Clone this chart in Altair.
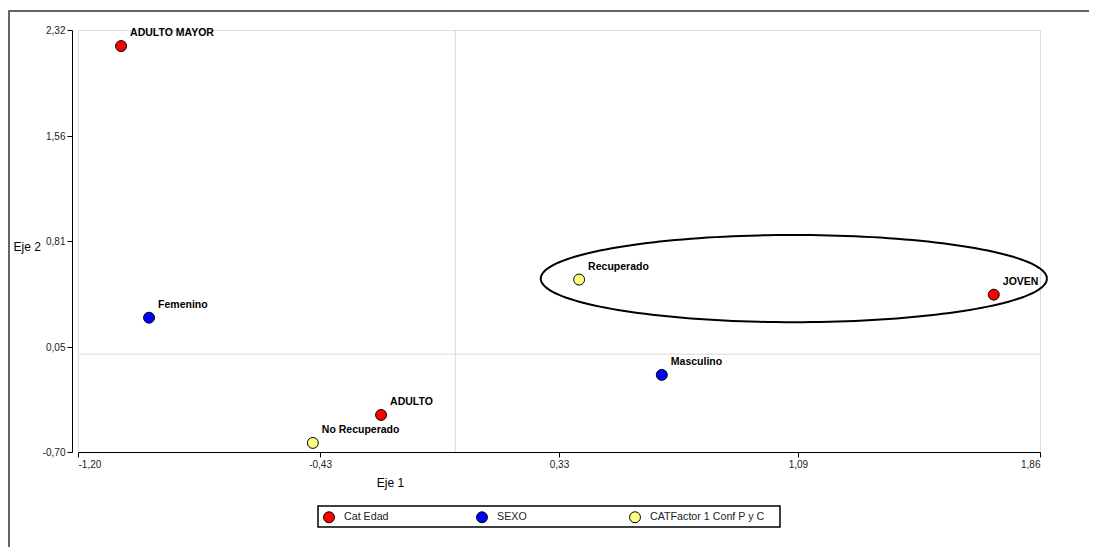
import altair as alt
import pandas as pd
import numpy as np

# ---- data ----
labels = ["ADULTO MAYOR", "Femenino", "ADULTO", "No Recuperado", "Recuperado", "Masculino", "JOVEN"]
eje1 = [-1.063, -0.974, -0.236, -0.453, 0.394, 0.657, 1.713]
eje2 = [2.205, 0.261, -0.435, -0.635, 0.534, -0.148, 0.426]
grupos = ["Cat Edad", "SEXO", "Cat Edad", "CATFactor 1 Conf P y C",
          "CATFactor 1 Conf P y C", "SEXO", "Cat Edad"]
group_order = ["Cat Edad", "SEXO", "CATFactor 1 Conf P y C"]
group_colors = ["#FF0000", "#0000FF", "#FFFF80"]
x_ticks = [-1.20, -0.43, 0.33, 1.09, 1.86]
y_ticks = [-0.70, 0.05, 0.81, 1.56, 2.32]
x_domain = [-1.20, 1.86]
y_domain = [-0.70, 2.32]

# highlight ellipse (annotation) centre and radii in data units
ell_cx, ell_cy = 1.077, 0.541
ell_rx, ell_ry = 0.805, 0.312

df = pd.DataFrame({"label": labels, "x": eje1, "y": eje2, "grupo": grupos})
one = pd.DataFrame({"a": [0]})
t = np.linspace(0, 2 * np.pi, 181)
ell = pd.DataFrame({"i": np.arange(len(t)),
                    "x": ell_cx + ell_rx * np.cos(t),
                    "y": ell_cy + ell_ry * np.sin(t)})

FONT = "Liberation Sans"
lab_expr = "replace(replace(format(datum.value, '.2f'), '.', ','), '\u2212', '-')"

xs = alt.Scale(domain=x_domain, nice=False, zero=False)
ys = alt.Scale(domain=y_domain, nice=False, zero=False)

xaxis = alt.Axis(values=x_ticks, labelExpr=lab_expr, grid=False, tickSize=5,
                 domainColor="black", tickColor="black", labelColor="#222",
                 labelFontSize=10, labelFont=FONT, labelPadding=2,
                 title="Eje 1", titleFont=FONT, titleFontSize=12, titleFontWeight="normal",
                 titleX=312, titleY=30, titleAlign="center", titleBaseline="middle")
yaxis = alt.Axis(values=y_ticks, labelExpr=lab_expr, grid=False, tickSize=5, offset=6,
                 domainColor="black", tickColor="black", labelColor="#222",
                 labelFontSize=10, labelFont=FONT, labelPadding=2,
                 title="Eje 2", titleFont=FONT, titleFontSize=12, titleFontWeight="normal",
                 titleAngle=0, titleX=-59, titleY=216, titleAlign="left", titleBaseline="middle")

frame = alt.Chart(one).mark_rect(fill=None, stroke="#333", strokeWidth=1.5).encode(
    x=alt.value(-69), x2=alt.value(1200), y=alt.value(-19), y2=alt.value(700))

legend_box = alt.Chart(one).mark_rect(fill="white", stroke="black", strokeWidth=1.5).encode(
    x=alt.value(240), x2=alt.value(702), y=alt.value(476), y2=alt.value(497))

vline = alt.Chart(one).mark_rule(color="#D9D9D9", strokeWidth=1).encode(
    x=alt.datum(0, scale=xs, axis=xaxis))
hline = alt.Chart(one).mark_rule(color="#D9D9D9", strokeWidth=1).encode(
    y=alt.datum(0, scale=ys, axis=yaxis))

ellipse = alt.Chart(ell).mark_line(color="black", strokeWidth=2).encode(
    x=alt.X("x:Q", scale=xs, axis=xaxis),
    y=alt.Y("y:Q", scale=ys, axis=yaxis),
    order="i:Q")

points = alt.Chart(df).mark_point(filled=True, size=120, stroke="black", strokeWidth=1,
                                  opacity=1, shape="circle").encode(
    x=alt.X("x:Q", scale=xs, axis=xaxis),
    y=alt.Y("y:Q", scale=ys, axis=yaxis),
    color=alt.Color("grupo:N", scale=alt.Scale(domain=group_order, range=group_colors),
                    sort=group_order,
                    legend=alt.Legend(title=None, orient="none", direction="horizontal",
                                      legendX=240, legendY=476, columns=3,
                                      gridAlign="all", columnPadding=15,
                                      padding=5,
                                      symbolType="circle", symbolSize=120,
                                      symbolStrokeColor="black", symbolStrokeWidth=1,
                                      labelFont=FONT, labelFontSize=10.7, labelColor="#222",
                                      labelOffset=9, labelLimit=300)))

texts = alt.Chart(df).mark_text(align="left", baseline="middle", dx=9, dy=-13,
                                font=FONT, fontSize=10.5, fontWeight="bold", color="black").encode(
    x=alt.X("x:Q", scale=xs, axis=xaxis),
    y=alt.Y("y:Q", scale=ys, axis=yaxis),
    text="label:N")

chart = alt.layer(frame, legend_box, vline, hline, ellipse, points, texts).properties(
    width=962, height=422,
    autosize=alt.AutoSizeParams(type="none"),
    padding={"left": 70, "top": 22, "right": 49, "bottom": 95},
).configure_view(stroke=None).configure(font=FONT)

chart.save("out.html", embed_options={"renderer": "svg", "actions": False})
